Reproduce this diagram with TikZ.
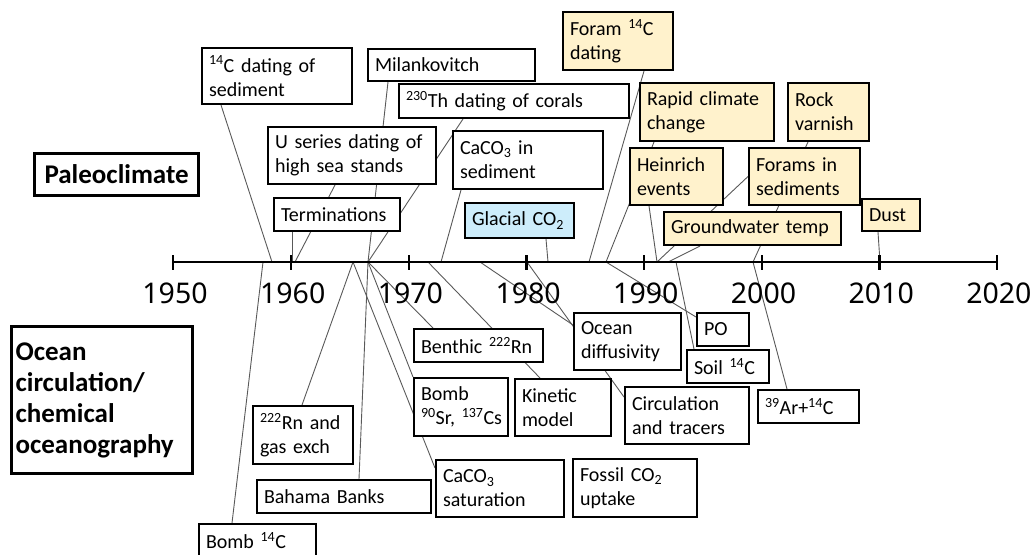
\documentclass[tikz,border=0pt]{standalone}
\usepackage{fontspec}
\setmainfont{Carlito}
\newfontfamily\yearfont{Noto Sans}
\usetikzlibrary{backgrounds}
\definecolor{cream}{RGB}{255,242,204}
\definecolor{iceblue}{RGB}{205,237,251}

\begin{document}
\begin{tikzpicture}[x=1pt, y=-1pt,
  evbox/.style={draw, line width=2pt, fill=white, anchor=north west, align=left,
    inner xsep=7pt, inner ysep=2pt, font=\fontsize{20}{24}\selectfont},
  warm/.style={evbox, fill=cream},
  cool/.style={evbox, fill=iceblue},
  topic/.style={draw, line width=3.2pt, anchor=north west, align=left,
    inner xsep=4pt, inner ysep=2pt, font=\fontsize{27}{31}\selectfont\bfseries},
  link/.style={black!65, line width=0.9pt},
  yearlbl/.style={anchor=base, font=\yearfont\fontsize{28.5}{30}\selectfont}]

\useasboundingbox (0,0) rectangle (1035,554);
\clip (0,0) rectangle (1035,554);

% axis
\draw[line width=2.2pt] (173.3,262) -- (997.2,262);
\foreach \yr [count=\i from 0] in {1950,1960,...,2020}{
  \draw[line width=2.2pt] ({173.3+117.7*\i},255) -- ({173.3+117.7*\i},270);
  \node[yearlbl] (lbl\yr) at ({175+117.7*\i},303) {\yr};
}

% points on the axis
\coordinate (yr57) at (263,262);
\coordinate (yr58) at (272,262);
\coordinate (yr60a) at (292,262);
\coordinate (yr60b) at (295,262);
\coordinate (yr65) at (353,262);
\coordinate (yr66) at (368,262);
\coordinate (yr71) at (428,262);
\coordinate (yr72) at (441,262);
\coordinate (yr76) at (480,262);
\coordinate (yr80) at (527,262);
\coordinate (yr82) at (548,262);
\coordinate (yr85) at (589,262);
\coordinate (yr86) at (606,262);
\coordinate (yr91) at (657,262);
\coordinate (yr92) at (668,262);
\coordinate (yr93) at (676,262);
\coordinate (yr99) at (753,262);
\coordinate (yr10) at (880,262);

% headings
\node[topic, align=center, text width=156pt, minimum height=42] (paleo) at (33,152) {Paleoclimate};
\node[topic, text width=173pt, minimum height=147] (ocean) at (10,325) {Ocean\\circulation/\\chemical\\oceanography};

% paleoclimate
\node[evbox, text width=136pt, minimum height=56] (csed) at (201,47) {\textsuperscript{14}C dating of\\sediment};
\node[evbox, text width=153pt, minimum height=32] (milank) at (367,48) {Milankovitch};
\node[evbox, text width=216pt, minimum height=34] (thcor) at (398,83) {\textsuperscript{230}Th dating of corals};
\node[evbox, text width=154pt, minimum height=57] (useries) at (267,126) {U series dating of\\high sea stands};
\node[evbox, text width=136pt, minimum height=58] (ccsed) at (452,130) {CaCO\textsubscript{3} in\\sediment};
\node[evbox, text width=112pt, minimum height=33] (term) at (273,197) {Terminations};
\node[cool, text width=95pt, minimum height=35] (glacial) at (464,202) {Glacial~CO\textsubscript{2}};
\node[warm, text width=96pt, minimum height=58] (foram) at (562,11) {Foram \textsuperscript{14}C\\dating};
\node[warm, text width=120pt, minimum height=58] (rapid) at (639,82) {Rapid climate\\change};
\node[warm, text width=67pt, minimum height=58] (rock) at (787,82) {Rock\\varnish};
\node[warm, text width=79pt, minimum height=57] (heinrich) at (629,147) {Heinrich\\events};
\node[warm, text width=97pt, minimum height=57] (fsed) at (748,147) {Forams in\\sediments};
\node[warm, text width=163pt, minimum height=33] (gwtemp) at (663,211) {Groundwater temp};
\node[warm, text width=44pt, minimum height=32] (dust) at (861,198) {Dust};

% ocean circulation
\node[evbox, text width=115pt, minimum height=33] (benthic) at (413,328) {Benthic~\textsuperscript{222}Rn};
\node[evbox, text width=80pt, minimum height=58] (bomb) at (413,377) {Bomb\\\textsuperscript{90}Sr,~\textsuperscript{137}Cs};
\node[evbox, text width=82pt, minimum height=57] (kinetic) at (514,378) {Kinetic\\model};
\node[evbox, text width=86pt, minimum height=58] (rngas) at (252,405) {\textsuperscript{222}Rn and\\gas exch};
\node[evbox, text width=160pt, minimum height=33] (bahama) at (256,479) {Bahama Banks};
\node[evbox, text width=114pt, minimum height=57] (ccsat) at (435,459) {CaCO\textsubscript{3}\\saturation};
\node[evbox, text width=103pt, minimum height=33] (bombc) at (198,523) {Bomb \textsuperscript{14}C};
\node[evbox, text width=93pt, minimum height=57] (odiff) at (573,312) {Ocean\\diffusivity};
\node[evbox, text width=38pt, minimum height=33] (po) at (696,312) {PO};
\node[evbox, text width=68pt, minimum height=33] (soil) at (686,349) {Soil \textsuperscript{14}C};
\node[evbox, text width=110pt, minimum height=57] (circ) at (624,386) {Circulation\\and tracers};
\node[evbox, text width=87pt, minimum height=33] (argon) at (757,389) {\textsuperscript{39}Ar+\textsuperscript{14}C};
\node[evbox, text width=110pt, minimum height=58] (fossil) at (572,458) {Fossil CO\textsubscript{2}\\uptake};

% leader lines, behind the boxes
\begin{pgfonlayer}{background}
\draw[link] ([xshift=20pt]csed.south west) -- (yr58);
\draw[link] ([xshift=19pt]term.south west) -- (yr60a);
\draw[link] ([xshift=68pt]useries.south west) -- (yr60b);
\draw[link] ([xshift=21pt]milank.south west) -- (yr66);
\draw[link] ([xshift=65pt]thcor.south west) -- (yr66);
\draw[link] ([xshift=9pt]ccsed.south west) -- (yr72);
\draw[link] ([xshift=82pt]glacial.south west) -- (yr82);
\draw[link] ([xshift=82pt]foram.south west) -- (yr85);
\draw[link] ([xshift=15pt]rapid.south west) -- (yr86);
\draw[link] ([xshift=20pt]heinrich.south west) -- (yr91);
\draw[link] (fsed.west) -- (yr91);
\draw[link] ([xshift=37pt]gwtemp.south west) -- (yr92);
\draw[link] ([xshift=21pt]rock.south west) -- (yr99);
\draw[link] ([xshift=17pt]dust.south west) -- (yr10);

\draw[link] (yr57) -- ([xshift=34pt]bombc.north west);
\draw[link] (yr65) -- ([xshift=50pt]rngas.north west);
\draw[link] (yr65) -- ([yshift=-9pt]ccsat.north west);
\draw[link] (yr66) -- ([xshift=103pt]bahama.north west);
\draw[link] (yr66) -- (bomb.north west);
\draw[link] (yr66) -- ([xshift=20pt]benthic.north west);
\draw[link] (yr71) -- ([xshift=26pt]kinetic.north west);
\draw[link] (yr76) -- ([yshift=-13pt]odiff.north west);
\draw[link] (yr80) -- ([yshift=-11pt]circ.north west);
\draw[link] (yr86) -- ([yshift=-5pt]po.north west);
\draw[link] (yr93) -- ([xshift=8pt]soil.north west);
\draw[link] (yr99) -- ([xshift=30pt]argon.north west);
\end{pgfonlayer}
\end{tikzpicture}
\end{document}
